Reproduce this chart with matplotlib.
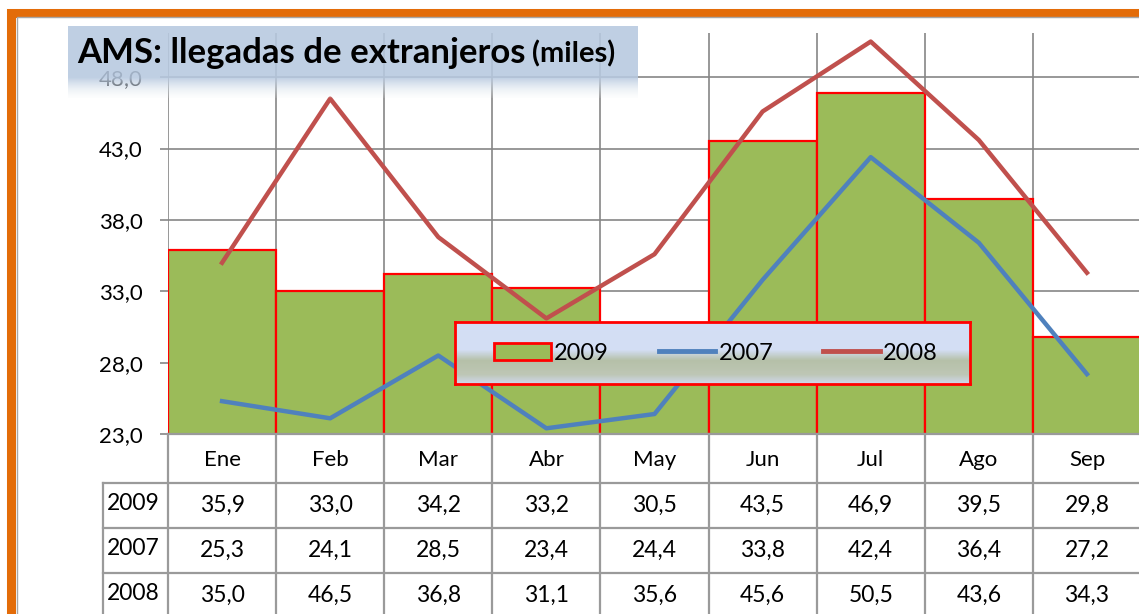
import numpy as np
import matplotlib
matplotlib.use("Agg")
import matplotlib.pyplot as plt
from matplotlib.patches import Rectangle, Patch
from matplotlib.lines import Line2D

plt.rcParams['font.family'] = ['Lato', 'DejaVu Sans']

# data
months = ["Ene", "Feb", "Mar", "Abr", "May", "Jun", "Jul", "Ago", "Sep"]
series_names = ["2009", "2007", "2008"]
v2009 = [35.9, 33.0, 34.2, 33.2, 30.5, 43.5, 46.9, 39.5, 29.8]
v2007 = [25.3, 24.1, 28.5, 23.4, 24.4, 33.8, 42.4, 36.4, 27.2]
v2008 = [35.0, 46.5, 36.8, 31.1, 35.6, 45.6, 50.5, 43.6, 34.3]
yticks = [23, 28, 33, 38, 43, 48]

W, H = 1139, 614
GREEN = "#9BBB59"
BLUE = "#4F81BD"
RED = "#C0504D"
GRID = "#868686"


def px_rect(x0, y0, x1, y1):
    return [x0 / W, 1 - y1 / H, (x1 - x0) / W, (y1 - y0) / H]


fig = plt.figure(figsize=(W / 100, H / 100), dpi=100)
fig.patch.set_facecolor("white")

x = np.arange(len(months))

# main chart
ax = fig.add_axes(px_rect(168, 33, 1141, 434))
ax.set_facecolor("none")
ax.set_xlim(-0.5, len(months) - 0.5)
ax.set_ylim(23, 51.1)
for s in ax.spines.values():
    s.set_visible(False)
for yv in yticks[1:]:
    ax.axhline(yv, color=GRID, lw=1.2, zorder=1)
for xv in np.arange(-0.5, len(months), 1.0):
    ax.axvline(xv, color=GRID, lw=1.2, zorder=1)
ax.bar(x, v2009, width=1.0, color=GREEN, edgecolor="#FF0000", lw=1.6, zorder=2)
ax.plot(x, v2007, color=BLUE, lw=3.2, zorder=3)
ax.plot(x, v2008, color=RED, lw=3.2, zorder=3)
ax.set_xticks([])
ax.set_yticks(yticks)
ax.set_yticklabels([("%.1f" % v).replace(".", ",") for v in yticks], fontsize=16)
ax.tick_params(axis="y", length=6, width=1.2, color=GRID, pad=12)

# data table under the chart
col_w = (1141 - 168) / len(months)
tx = fig.add_axes(px_rect(103, 434, 1141, 618))
tx.set_xlim(-0.5 - 65 / col_w, len(months) - 0.5)
tx.set_ylim(184, 0)
tx.axis("off")
x_left = -0.5 - 65 / col_w
row_edges = [0, 49, 94, 139, 184]
tline = dict(color="#9A9A9A", lw=1.6, clip_on=False)
tx.plot([-0.5, len(months) - 0.5], [0, 0], **tline)
for yv in row_edges[1:]:
    tx.plot([x_left, len(months) - 0.5], [yv, yv], **tline)
for xv in np.arange(-0.5, len(months), 1.0):
    tx.plot([xv, xv], [0, 184], **tline)
tx.plot([x_left, x_left], [49, 184], **tline)
for i, m in enumerate(months):
    tx.text(i, 26, m, ha="center", va="center", fontsize=16)
rows = [v2009, v2007, v2008]
for r, (name, vals) in enumerate(zip(series_names, rows)):
    yc = (row_edges[r + 1] + row_edges[r + 2]) / 2
    tx.text(x_left + 0.04, yc - 2, name, ha="left", va="center", fontsize=16.5)
    for i, v in enumerate(vals):
        tx.text(i, yc, ("%.1f" % v).replace(".", ","), ha="center", va="center", fontsize=16.5)

# title box
tb = fig.add_axes(px_rect(68, 26, 638, 98), zorder=2)
n = 100
grad = np.zeros((n, 1, 4))
for k in range(n):
    t = k / (n - 1)
    if t < 0.72:
        grad[k, 0] = (0.72, 0.79, 0.88, 0.88)
    else:
        f = (t - 0.72) / 0.28
        grad[k, 0] = (0.72 + 0.2 * f, 0.79 + 0.15 * f, 0.88 + 0.07 * f, 0.88 - 0.78 * f)
tb.imshow(grad, aspect="auto", extent=(0, 1, 0, 1))
tb.axis("off")
t1 = fig.text(77 / W, 1 - 63 / H, "AMS: llegadas de extranjeros", fontsize=25,
              fontweight="bold", zorder=4)
tb.annotate("(miles)", xy=(1, 0), xycoords=t1, xytext=(5, 1), textcoords="offset points",
            fontsize=21, fontweight="bold", va="bottom", ha="left")

# legend box
lb = fig.add_axes(px_rect(455, 322, 970, 384), zorder=3)
lg = np.zeros((n, 1, 4))
stops = [(0.0, (0.80, 0.85, 0.96)), (0.45, (0.80, 0.85, 0.95)),
         (0.62, (0.66, 0.71, 0.60)), (0.85, (0.70, 0.74, 0.66)), (1.0, (0.78, 0.82, 0.92))]
for k in range(n):
    t = k / (n - 1)
    for (a, ca), (b, cb) in zip(stops[:-1], stops[1:]):
        if a <= t <= b:
            f = (t - a) / (b - a)
            lg[k, 0, :3] = [ca[j] + (cb[j] - ca[j]) * f for j in range(3)]
    lg[k, 0, 3] = 0.85
lb.imshow(lg, aspect="auto", extent=(0, 1, 0, 1))
lb.set_xticks([])
lb.set_yticks([])
for s in lb.spines.values():
    s.set_color("#FF0000")
    s.set_linewidth(2)

handles = [Patch(facecolor=GREEN, edgecolor="#FF0000", lw=2),
           Line2D([], [], color=BLUE, lw=3.5),
           Line2D([], [], color=RED, lw=3.5)]
fig.legend(handles, series_names, loc="center", bbox_to_anchor=(716 / W, 1 - 353 / H),
           ncol=3, frameon=False, fontsize=17, handlelength=2.4, handletextpad=0.15,
           columnspacing=2.1)

# orange frame
fig.add_artist(Rectangle((10.5 / W, -0.1), 1.2, 1 - 12.5 / H + 0.1, transform=fig.transFigure,
                         fill=False, edgecolor="#E36C09", lw=6.5, zorder=10))
fig.add_artist(Rectangle((16.5 / W, -0.1), 1.2, 1 - 17.0 / H + 0.1, transform=fig.transFigure,
                         fill=False, edgecolor="#A6A6A6", lw=1.0, zorder=10))

fig.savefig("out.png", dpi=100)
